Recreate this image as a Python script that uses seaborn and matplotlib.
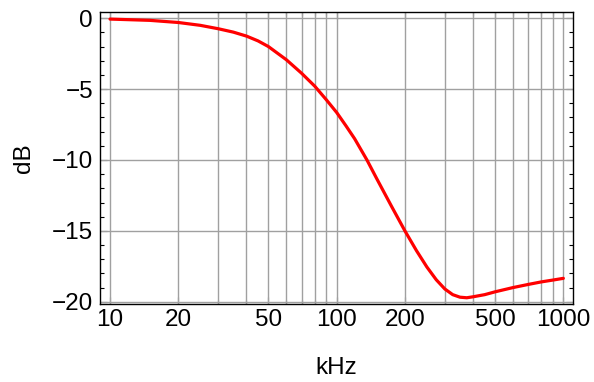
import matplotlib
matplotlib.use("Agg")
import matplotlib.pyplot as plt
import seaborn as sns
import pandas as pd
from matplotlib.ticker import FixedLocator, FixedFormatter, NullFormatter, MultipleLocator

freq_khz = [10, 12, 15, 20, 25, 30, 35, 40, 45, 50, 60, 70, 80, 90, 100, 110, 120, 136,
            150, 175, 200, 225, 250, 275, 300, 325, 350, 375, 400, 450, 500, 600, 700,
            800, 900, 1000]
gain_db = [-0.06, -0.1, -0.15, -0.3, -0.5, -0.74, -0.98, -1.26, -1.6, -2.0, -2.93,
           -3.88, -4.79, -5.75, -6.65, -7.6, -8.5, -10.0, -11.3, -13.3, -15.0, -16.4,
           -17.55, -18.45, -19.1, -19.5, -19.68, -19.72, -19.65, -19.5, -19.3, -19.0,
           -18.78, -18.6, -18.47, -18.35]

x_major = [10, 20, 50, 100, 200, 500, 1000]
x_major_labels = ["10", "20", "50", "100", "200", "500", "1000"]
x_minor = [30, 40, 60, 70, 80, 90, 300, 400, 600, 700, 800, 900]
y_major = [0, -5, -10, -15, -20]
y_major_labels = ["0", "\u22125", "\u221210", "\u221215", "\u221220"]

sns.set_style("ticks")
plt.rcParams["font.family"] = ["Liberation Sans", "DejaVu Sans"]
plt.rcParams["font.size"] = 17.5
plt.rcParams["text.color"] = "black"
plt.rcParams["axes.labelcolor"] = "black"

df = pd.DataFrame({"kHz": freq_khz, "dB": gain_db})

fig = plt.figure(figsize=(5.94, 3.82), dpi=100)
ax = fig.add_axes([100 / 594, 1 - 304 / 382, 473 / 594, 292 / 382])

ax.set_xscale("log")
grid_kw = dict(color="#a0a0a0", linewidth=1.0, zorder=1)
for v in x_major + x_minor:
    ax.axvline(v, **grid_kw)
for v in y_major:
    ax.axhline(v, **grid_kw)

sns.lineplot(data=df, x="kHz", y="dB", ax=ax, color="red", linewidth=2.3, zorder=3)

ax.set_xlim(9.033, 1103)
ax.set_ylim(-20.16, 0.44)

ax.xaxis.set_major_locator(FixedLocator(x_major))
ax.xaxis.set_major_formatter(FixedFormatter(x_major_labels))
ax.xaxis.set_minor_locator(FixedLocator(x_minor))
ax.xaxis.set_minor_formatter(NullFormatter())
ax.yaxis.set_major_locator(FixedLocator(y_major))
ax.yaxis.set_major_formatter(FixedFormatter(y_major_labels))
ax.yaxis.set_minor_locator(MultipleLocator(1))

ax.tick_params(which="both", direction="in", top=True, right=True, colors="black",
               labelsize=17.5, width=0.8)
ax.tick_params(which="major", length=5)
ax.tick_params(which="minor", length=3)
ax.tick_params(axis="x", which="major", pad=3.5)
ax.tick_params(axis="y", which="major", pad=5)

for s in ax.spines.values():
    s.set_visible(True)
    s.set_color("black")
    s.set_linewidth(1.0)

ax.set_xlabel("kHz", fontsize=17.5, labelpad=19, color="black")
ax.set_ylabel("dB", fontsize=17.5, labelpad=12, color="black")

fig.savefig("out.png", dpi=100)
